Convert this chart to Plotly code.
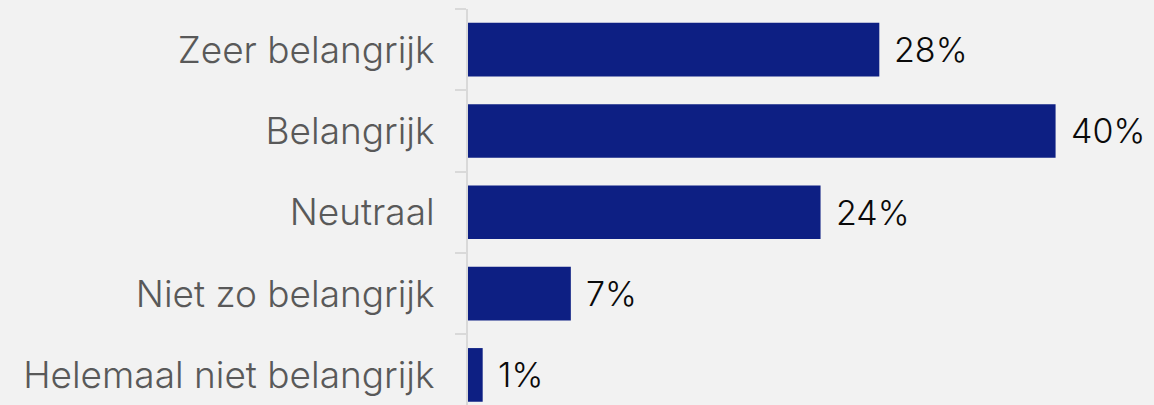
import plotly.graph_objects as go

categories = ["Zeer belangrijk", "Belangrijk", "Neutraal", "Niet zo belangrijk", "Helemaal niet belangrijk"]
values = [28, 40, 24, 7, 1]
labels = ["28%", "40%", "24%", "7%", "1%"]

BAR = "#0d1f83"
BG = "#f2f2f2"

fig = go.Figure()
fig.add_trace(go.Bar(
    x=values, y=categories, orientation="h",
    marker=dict(color=BAR, line=dict(width=0)),
    width=0.66, hoverinfo="skip",
))
for c, v, t in zip(categories, values, labels):
    fig.add_annotation(x=v, y=c, text=t, showarrow=False, xanchor="left",
                       xshift=13, font=dict(family="Inter", size=34, color="#0a0a0a", weight=300))

fig.update_layout(
    width=1154, height=405,
    margin=dict(l=468, r=0, t=9, b=0),
    paper_bgcolor=BG, plot_bgcolor=BG,
    showlegend=False,
    bargap=0.34,
)
fig.update_xaxes(range=[0, 46.7], visible=False, fixedrange=True)
fig.update_yaxes(
    type="category", categoryorder="array", categoryarray=categories,
    range=[4.37, -0.5],
    showline=True, linecolor="#d9d9d9", linewidth=2,
    ticks="outside", tickson="boundaries", ticklen=11, tickwidth=2, tickcolor="#d9d9d9",
    showgrid=False, zeroline=False,
    tickfont=dict(family="Inter", size=37, color="#595959", weight=300),
    ticklabelstandoff=24,
)
fig.write_html("out.html", config={"displayModeBar": False},
               post_script="document.body.style.margin='0';document.body.style.overflow='hidden';")
